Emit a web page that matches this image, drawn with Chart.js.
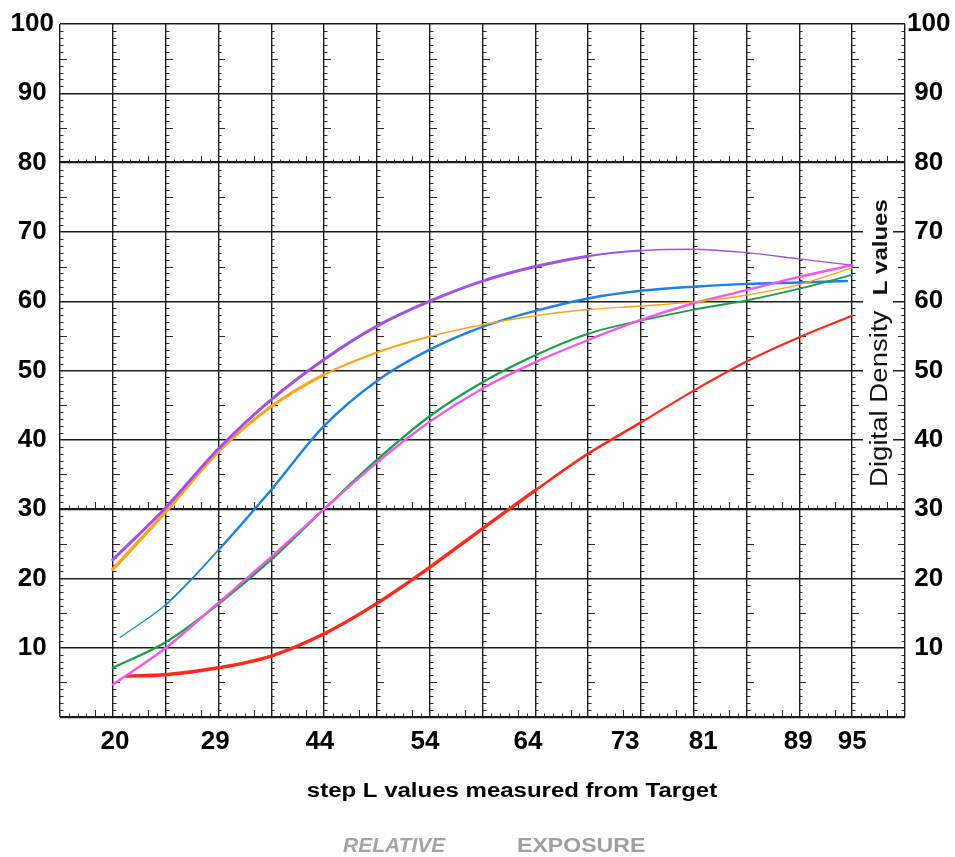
<!DOCTYPE html>
<html><head><meta charset="utf-8">
<script src="https://cdn.jsdelivr.net/npm/chart.js@4.4.1/dist/chart.umd.min.js"></script>
<style>html,body{margin:0;padding:0;background:#fff;}canvas{display:block;}</style>
</head><body>
<canvas id="c" width="955" height="857"></canvas>
<script>
// ---- tick labels ----
const stepLabels = ['20','29','44','54','64','73','81','89','95'];
// where each step label sits on the graph-paper x grid (grid units)
const stepLabelUnits = [1.04, 2.94, 4.92, 6.91, 8.86, 10.7, 12.18, 13.98, 15.0];
const densityTicks = [10,20,30,40,50,60,70,80,90,100];

// ---- x samples (graph-paper grid units) ----
const gridSteps = [1,2,3,4,5,6,7,8,9,10,11,12,13,14,15];
const blueSteps = [1.14,2,3,4,5,6,7,8,9,10,11,12,13,14,14.9];
const redSteps  = [1.26,2,3,4,5,6,7,8,9,10,11,12,13,14,15];

// ---- series values (Digital Density L) ----
const purpleL  = [22.7,30.2,38.7,45.8,51.6,56.4,60.0,62.9,65.0,66.5,67.3,67.5,67.0,66.1,65.2];
const orangeL  = [21.3,29.6,38.3,44.8,49.4,52.6,54.9,56.6,57.9,58.8,59.3,59.9,60.9,62.4,64.8];
const blueL    = [11.5,16.2,24.1,32.8,42.0,48.5,53.0,56.3,58.6,60.4,61.5,62.1,62.5,62.7,62.9];
const greenL   = [7.1,10.8,16.3,22.7,30.0,37.1,43.4,48.3,52.2,55.3,57.2,58.8,60.1,61.8,63.8];
const magentaL = [4.7,9.95,16.5,23.1,30.0,36.7,42.6,47.4,51.2,54.4,57.3,59.7,61.6,63.5,65.2];
const redL     = [5.9,6.1,7.1,8.8,12.0,16.4,21.6,27.2,32.7,38.0,42.5,47.1,51.3,54.8,57.9];

const FONT = "'Liberation Sans', Arial, Helvetica, sans-serif";
Chart.defaults.font.family = FONT;

function pts(xs, ys){ return xs.map((x,i)=>({x, y: ys[i]})); }
function widthBy(fn){ return { borderWidth: ctx => fn(ctx.p0.parsed.x) }; }

const datasets = [
  { label:'purple', data: pts(gridSteps, purpleL), borderColor:'#a052e6',
    segment: widthBy(x => x < 9.5 ? 3 : (x < 10.5 ? 2 : 1.3)) },
  { label:'orange', data: pts(gridSteps, orangeL), borderColor:'#ffa31a',
    segment: widthBy(x => x < 2.5 ? 3.5 : (x < 4.5 ? 3 : (x < 6.5 ? 2 : 1.4))) },
  { label:'magenta', data: pts(gridSteps, magentaL), borderColor:'#f558e8',
    segment: widthBy(x => 2.4) },
  { label:'green', data: pts(gridSteps, greenL), borderColor:'#1b9e4b',
    segment: widthBy(x => x < 9.5 ? 2.3 : 1.8) },
  { label:'blue', data: pts(blueSteps, blueL), borderColor:'#1f80e2',
    segment: widthBy(x => x < 2 ? 1.2 : (x < 3 ? 1.8 : 2.5)) },
  { label:'red', data: pts(redSteps, redL), borderColor:'#ff2a1a',
    segment: widthBy(x => x < 8.5 ? 3.4 : (x < 10.5 ? 2.6 : 2.1)) }
].map(d => Object.assign({
  xAxisID:'x', yAxisID:'y', pointRadius:0, fill:false, borderWidth:2,
  cubicInterpolationMode:'monotone', borderCapStyle:'round'
}, d));

const paperTicks = {
  id:'paperTicks',
  beforeDatasetsDraw(chart){
    const {ctx, scales:{x, y}} = chart;
    ctx.save();
    ctx.strokeStyle = '#2a2a2a';
    ctx.lineWidth = 1;
    for (let u = 0; u <= 16; u++) {
      const px = Math.round(x.getPixelForValue(u));
      const dir = u === 16 ? -1 : 1;
      for (let v = 1; v < 100; v++) {
        if (v % 10 === 0) continue;
        const py = Math.round(y.getPixelForValue(v)) + 0.5;
        const len = v % 5 === 0 ? 7 : 3.5;
        ctx.beginPath(); ctx.moveTo(px, py); ctx.lineTo(px + dir*len, py); ctx.stroke();
      }
    }
    for (const v of [0, 30, 80]) {
      const py = Math.round(y.getPixelForValue(v));
      for (let u = 0; u < 16; u++) {
        for (let s = 1; s < 6; s++) {
          const px = Math.round(x.getPixelForValue(u + s/6)) + 0.5;
          const len = s === 4 ? 7 : 3.5;
          ctx.beginPath(); ctx.moveTo(px, py); ctx.lineTo(px, py - len); ctx.stroke();
        }
      }
    }
    ctx.restore();
  },
  afterDatasetsDraw(chart){
    const {ctx, scales:{y}} = chart;
    ctx.save();
    // white strip behind the rotated axis name
    ctx.fillStyle = '#fff';
    ctx.fillRect(863, y.getPixelForValue(75.5), 30, y.getPixelForValue(32) - y.getPixelForValue(75.5));
    ctx.translate(887, 487);
    ctx.rotate(-Math.PI/2);
    ctx.scale(1.2, 1);
    ctx.fillStyle = '#111';
    ctx.textBaseline = 'alphabetic';
    ctx.textAlign = 'left';
    ctx.font = "23px " + FONT;
    const a = 'Digital Density  ';
    ctx.fillText(a, 0, 0);
    const w = ctx.measureText(a).width;
    ctx.font = "bold 20px " + FONT;
    ctx.fillText('L values', w, 0);
    ctx.restore();
  },
  afterDraw(chart){
    const {ctx} = chart;
    ctx.save();
    ctx.textBaseline = 'alphabetic';
    // x-axis name
    ctx.save();
    ctx.translate(512, 797);
    ctx.scale(1.2, 1);
    ctx.fillStyle = '#000';
    ctx.textAlign = 'center';
    ctx.font = "bold 20px " + FONT;
    ctx.fillText('step L values measured from Target', 0, 0);
    ctx.restore();
    // RELATIVE  EXPOSURE
    ctx.fillStyle = '#a4a4a4';
    ctx.textAlign = 'left';
    ctx.font = "italic bold 21px " + FONT;
    ctx.fillText('RELATIVE', 343, 852);
    ctx.save();
    ctx.translate(517, 852);
    ctx.scale(1.1, 1);
    ctx.fillStyle = '#a0a0a0';
    ctx.font = "bold 21px " + FONT;
    ctx.fillText('EXPOSURE', 0, 0);
    ctx.restore();
    ctx.restore();
  }
};

const tickFont = { family: FONT, size: 26, weight: 'bold' };
const yTickCb = v => densityTicks.includes(v) ? String(v) : '';

new Chart(document.getElementById('c'), {
  type:'line',
  data:{ datasets },
  options:{
    responsive:false, animation:false, devicePixelRatio:1,
    layout:{ padding:{ top:24, left:0, right:0, bottom:0 } },
    plugins:{ legend:{display:false}, tooltip:{enabled:false}, title:{display:false} },
    scales:{
      x:{ type:'linear', position:'bottom', min:0, max:16, weight:0,
          ticks:{ stepSize:1, display:false },
          grid:{ color:'#1c1c1c', lineWidth:1.4, drawTicks:false },
          border:{ display:false },
          afterFit(s){ s.height = 0; } },
      xl:{ type:'linear', position:'bottom', min:0, max:16, weight:1,
           grid:{ display:false, drawTicks:false }, border:{ display:false },
           afterBuildTicks(s){ s.ticks = stepLabelUnits.map(v => ({value:v})); },
           ticks:{ autoSkip:false, maxRotation:0, padding:9, color:'#000', font:tickFont,
                   callback:(v,i) => stepLabels[i] },
           afterFit(s){ s.height = 140; } },
      y:{ type:'linear', position:'left', min:0, max:100,
          ticks:{ stepSize:10, color:'#000', font:tickFont, padding:6, crossAlign:'center', callback:yTickCb },
          grid:{ color:'#1c1c1c', drawTicks:false,
                 lineWidth: c => ([0,30,80].includes(c.tick.value) ? 2.2 : 1.4) },
          border:{ display:false },
          afterFit(s){ s.width = 60; } },
      y2:{ type:'linear', position:'right', min:0, max:100,
           ticks:{ stepSize:10, color:'#000', font:tickFont, padding:2, crossAlign:'center', callback:yTickCb },
           grid:{ display:false, drawTicks:false }, border:{ display:false },
           afterFit(s){ s.width = 50; } }
    }
  },
  plugins:[paperTicks]
});
</script>
</body></html>
